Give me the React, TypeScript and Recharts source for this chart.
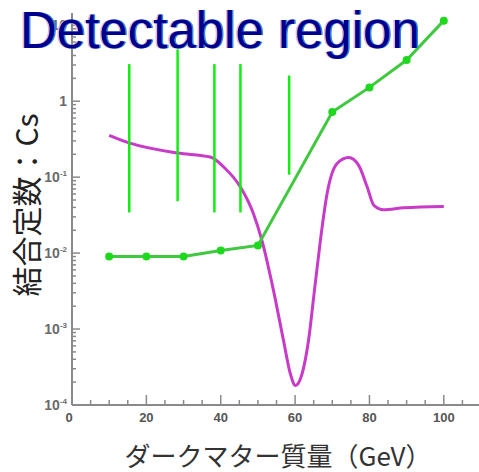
import React from "react";
import { LineChart, Line, XAxis, YAxis, ReferenceLine } from "recharts";

// 質量 (GeV) ごとの結合定数 Cs — マゼンタの曲線
const magentaMass = [
  10, 15.6, 28.4, 37.2, 40.8, 45.3, 48.8, 51.1, 54.2, 56.9, 58.7, 60.1, 61.9,
  63.6, 65.2, 66.8, 68.6, 71.3, 74.4, 77.1, 79.4, 81.2, 83.8, 89.2, 100,
];
const magentaCs = [
  0.356, 0.28, 0.208, 0.184, 0.136, 0.074, 0.033, 0.0146, 0.0032, 0.0007,
  0.00026, 0.00018, 0.00026, 0.0007, 0.0032, 0.0146, 0.0605, 0.151, 0.181,
  0.143, 0.074, 0.0424, 0.0372, 0.0395, 0.0411,
];

// 緑の点つき曲線
const greenMass = [10, 20, 30, 40, 50, 70, 80, 90, 100];
const greenCs = [0.009, 0.009, 0.009, 0.0108, 0.0126, 0.72, 1.52, 3.48, 11.5];

// 検出可能領域の縦線 (質量, 下端, 上端)
const regionMass = [15.4, 28.4, 38.3, 45.3, 58.4];
const regionLow = [0.0343, 0.0483, 0.0343, 0.0343, 0.1077];
const regionHigh = [3.08, 4.81, 3.08, 3.08, 2.18];

// 軸の目盛り
const xTicks = [
  0, 5, 10, 15, 20, 25, 30, 35, 40, 45, 50, 55, 60, 65, 70, 75, 80, 85, 90,
  95, 100, 105, 110,
];
const xLabelTicks = [0, 20, 40, 60, 80, 100];
const yMajor = [1e-4, 1e-3, 1e-2, 1e-1, 1, 10];

const X_MAX = 110;
const Y_MIN = 1e-4;
const Y_MAX = 14.5;

const yTicks = yMajor
  .flatMap((d) => [1, 2, 3, 4, 5, 6, 7, 8, 9].map((m) => m * d))
  .filter((v) => v <= Y_MAX);

const magentaData = magentaMass.map((x, i) => ({ x, y: magentaCs[i] }));
const greenData = greenMass.map((x, i) => ({ x, y: greenCs[i] }));

const AXIS_GRAY = "#8a8a8a";

const XTick = (props: any) => {
  const { x, y, payload } = props;
  const v = payload.value;
  const len = v % 20 === 0 ? 10 : 5;
  return (
    <g>
      <line x1={x} y1={y} x2={x} y2={y - len} stroke={AXIS_GRAY} strokeWidth={1.5} />
      {xLabelTicks.includes(v) && (
        <text
          x={v === 0 ? x - 3 : x}
          y={y + 17}
          textAnchor="middle"
          fontSize={13}
          fontWeight="bold"
          fontFamily="'Liberation Sans', Arial, sans-serif"
          fill="#555"
        >
          {v}
        </text>
      )}
    </g>
  );
};

const YTick = (props: any) => {
  const { x, y, payload } = props;
  const v = payload.value;
  const major = yMajor.includes(v);
  const exp = Math.round(Math.log10(v));
  return (
    <g>
      <line x1={x} y1={y} x2={x + (major ? 8 : 4)} y2={y} stroke={AXIS_GRAY} strokeWidth={1.5} />
      {major && (
        <text
          x={x - 5}
          y={y + 5}
          textAnchor="end"
          fontSize={14}
          fontWeight="bold"
          fontFamily="'Liberation Sans', Arial, sans-serif"
          fill="#6a6a6a"
        >
          {exp === 0 ? (
            "1"
          ) : exp === 1 ? (
            "10"
          ) : (
            <>
              <tspan>10</tspan>
              <tspan dy={-6} fontSize={8}>
                {exp}
              </tspan>
            </>
          )}
        </text>
      )}
    </g>
  );
};

const App: React.FC = () => {
  return (
    <div
      style={{
        position: "absolute",
        left: 0,
        top: 0,
        width: 479,
        height: 472,
        overflow: "hidden",
        background: "#fff",
      }}
    >
      <LineChart
        width={481}
        height={472}
        margin={{ top: 13, right: 0, left: 0, bottom: 0 }}
      >
        <XAxis
          dataKey="x"
          type="number"
          domain={[0, X_MAX]}
          ticks={xTicks}
          interval={0}
          allowDataOverflow
          tickSize={0}
          tickMargin={0}
          tickLine={false}
          tick={(p: any) => <XTick {...p} />}
          axisLine={{ stroke: AXIS_GRAY, strokeWidth: 2 }}
          height={67}
          label={() => (
            <text
              x={278}
              y={454}
              textAnchor="middle"
              dominantBaseline="central"
              fontSize={26}
              fontFamily="'Noto Sans CJK JP', sans-serif"
              fill="#333"
            >
              ダークマター質量（GeV）
            </text>
          )}
        />
        {/* 上枠 */}
        <XAxis
          xAxisId="top"
          orientation="top"
          type="number"
          domain={[0, X_MAX]}
          tick={false}
          tickLine={false}
          height={0}
          axisLine={{ stroke: "#808080", strokeWidth: 2.5 }}
        />
        <YAxis
          type="number"
          scale="log"
          domain={[Y_MIN, Y_MAX]}
          ticks={yTicks}
          interval={0}
          allowDataOverflow
          width={72}
          tickSize={0}
          tickMargin={0}
          tickLine={false}
          tick={(p: any) => <YTick {...p} />}
          axisLine={{ stroke: AXIS_GRAY, strokeWidth: 2 }}
          label={() => (
            <text
              x={25}
              y={205}
              transform="rotate(-90 25 205)"
              textAnchor="middle"
              dominantBaseline="central"
              fontSize={30}
              fontFamily="'Noto Sans CJK JP', sans-serif"
              fill="#222"
            >
              結合定数：Cs
            </text>
          )}
        />

        <Line
          data={magentaData}
          dataKey="y"
          type="monotone"
          stroke="#c83ac8"
          strokeWidth={3}
          dot={false}
          activeDot={false}
          isAnimationActive={false}
        />
        <Line
          data={greenData}
          dataKey="y"
          type="linear"
          stroke="#40c840"
          strokeWidth={3}
          dot={{ r: 4, fill: "#1ed81e", stroke: "none" }}
          activeDot={false}
          isAnimationActive={false}
        />

        {regionMass.map((m, i) => (
          <ReferenceLine
            key={m}
            segment={[
              { x: m, y: regionLow[i] },
              { x: m, y: regionHigh[i] },
            ]}
            stroke="#11ee11"
            strokeWidth={2.5}
            ifOverflow="visible"
          />
        ))}
      </LineChart>

      {/* 見出し */}
      <svg
        width={479}
        height={472}
        style={{ position: "absolute", left: 0, top: 0, pointerEvents: "none" }}
      >
        <g fontSize={51} fontFamily="'Liberation Sans', Arial, sans-serif">
          <text x={18.5} y={48} fill="#eab4c6">
            Detectable region
          </text>
          <text x={21.5} y={48} fill="#2f86e0">
            Detectable region
          </text>
          <text x={20} y={48} fill="#00008f">
            Detectable region
          </text>
        </g>
      </svg>
    </div>
  );
};

export default App;
